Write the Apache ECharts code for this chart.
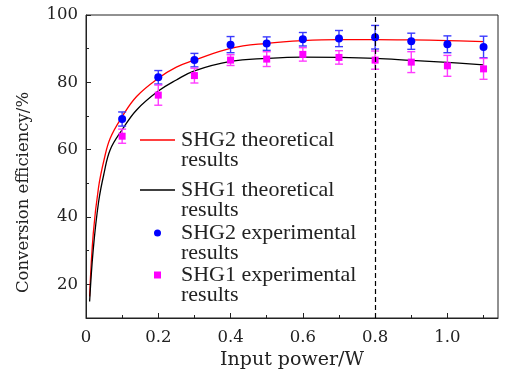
<!DOCTYPE html>
<html>
<head>
<meta charset="utf-8">
<script src="https://cdn.jsdelivr.net/npm/echarts@6/dist/echarts.min.js"></script>
<style>html,body{margin:0;padding:0;background:#fff}#c{width:506px;height:373px}</style>
</head>
<body>
<div id="c"></div>
<script>
// Theoretical curves
var theoryX = [0.01, 0.02, 0.035, 0.05, 0.067, 0.1, 0.14, 0.2, 0.25, 0.3, 0.4, 0.5, 0.6, 0.7, 0.8, 0.9, 1.0, 1.1];
var shg2Theory = [16.4, 35.0, 49.0, 57.0, 63.4, 69.8, 75.8, 81.2, 84.5, 86.6, 90.1, 91.6, 92.4, 92.7, 92.7, 92.6, 92.4, 92.1];
var shg1Theory = [14.9, 30.3, 44.6, 53.0, 60.0, 65.9, 71.8, 77.4, 80.7, 83.4, 86.2, 87.1, 87.5, 87.4, 87.1, 86.5, 85.9, 85.2];
// Experimental points
var expX = [0.1, 0.2, 0.3, 0.4, 0.5, 0.6, 0.7, 0.8, 0.9, 1.0, 1.1];
var shg2Exp = [69.1, 81.5, 86.6, 91.2, 91.5, 92.8, 93.0, 93.4, 92.2, 91.3, 90.5];
var shg2Err = [2.1, 2.0, 2.0, 2.4, 2.0, 2.0, 2.4, 3.5, 2.4, 2.5, 3.2];
var shg1Exp = [64.0, 76.2, 82.0, 86.6, 86.9, 88.3, 87.4, 86.6, 86.0, 84.9, 84.0];
var shg1Err = [2.1, 3.0, 2.2, 1.6, 2.2, 2.0, 2.0, 2.7, 3.1, 3.1, 3.1];
var xTickLabels = [0, 0.2, 0.4, 0.6, 0.8, 1.0];
var xMinorTicks = [0.1, 0.3, 0.5, 0.7, 0.9, 1.1];
var yTickLabels = [20, 40, 60, 80, 100];
var markX = 0.8;

var names = ['SHG2 theoretical\nresults', 'SHG1 theoretical\nresults', 'SHG2 experimental\nresults', 'SHG1 experimental\nresults'];
var AXFONT = 'DejaVu Serif';
var LGFONT = 'Liberation Serif';
var LH = 20;

function pairs(xs, ys) { return xs.map(function (x, i) { return [x, ys[i]]; }); }
function errData(xs, ys, es) { return xs.map(function (x, i) { return [x, ys[i] - es[i], ys[i] + es[i]]; }); }

function errSeries(data, color) {
  return {
    type: 'custom', xAxisIndex: 0, yAxisIndex: 0, silent: true, z: 3,
    data: data,
    renderItem: function (params, api) {
      var x = api.value(0);
      var lo = api.coord([x, api.value(1)]);
      var hi = api.coord([x, api.value(2)]);
      var w = 4;
      var st = { stroke: color, lineWidth: 1.4 };
      return { type: 'group', children: [
        { type: 'line', shape: { x1: lo[0], y1: lo[1], x2: hi[0], y2: hi[1] }, style: st },
        { type: 'line', shape: { x1: lo[0] - w, y1: lo[1], x2: lo[0] + w, y2: lo[1] }, style: st },
        { type: 'line', shape: { x1: hi[0] - w, y1: hi[1], x2: hi[0] + w, y2: hi[1] }, style: st }
      ]};
    }
  };
}

function lgFormatter(n) { return '\n' + n; }
function legendLine(name, iconCenterY) {
  return { show: true, data: [{ name: name, icon: 'rect' }], left: 140, top: iconCenterY - 1.5 * LH,
    orient: 'vertical', itemWidth: 35, itemHeight: 1.3, itemGap: 0, padding: 0, selectedMode: false,
    formatter: lgFormatter,
    textStyle: { fontFamily: LGFONT, fontSize: 22, color: '#222', lineHeight: LH, padding: [0, 0, 0, 1] } };
}
function legendMark(name, icon, iconCenterY) {
  return { show: true, data: [{ name: name, icon: icon }], left: 154, top: iconCenterY - 1.5 * LH,
    orient: 'vertical', itemWidth: 7, itemHeight: 7, itemGap: 0, padding: 0, selectedMode: false,
    formatter: lgFormatter,
    textStyle: { fontFamily: LGFONT, fontSize: 22, color: '#222', lineHeight: LH, padding: [0, 0, 0, 15] } };
}

var chart = echarts.init(document.getElementById('c'), null, { renderer: 'canvas' });
chart.setOption({
  animation: false,
  backgroundColor: '#fff',
  grid: { left: 86, right: 8, top: 15, bottom: 55, show: true, borderColor: '#222', borderWidth: 1, backgroundColor: 'transparent', outerBoundsMode: 'none', containLabel: false },
  legend: [
    legendLine(names[0], 139),
    legendLine(names[1], 189),
    legendMark(names[2], 'circle', 232),
    legendMark(names[3], 'rect', 274)
  ],
  xAxis: [{
    type: 'value', min: 0, max: 1.14, interval: 0.2,
    name: 'Input power/W', nameLocation: 'middle', nameGap: 33,
    nameTextStyle: { fontFamily: AXFONT, fontSize: 19, color: '#222' },
    axisLine: { show: true, lineStyle: { color: '#222', width: 1 } },
    axisTick: { show: true, inside: true, length: 5, customValues: xTickLabels, lineStyle: { color: '#222' } },
    axisLabel: { customValues: xTickLabels, fontFamily: AXFONT, fontSize: 16.5, color: '#222', margin: 11, formatter: function (v) { return v === 0 ? '0' : v.toFixed(1); } },
    splitLine: { show: false }
  }, {
    type: 'value', min: 0, max: 1.14, position: 'bottom',
    axisLine: { show: false }, axisLabel: { show: false }, splitLine: { show: false },
    axisTick: { show: true, inside: true, length: 3, customValues: xMinorTicks, lineStyle: { color: '#222' } }
  }],
  yAxis: [{
    type: 'value', min: 10, max: 100, interval: 10,
    name: 'Conversion efficiency/%', nameLocation: 'middle', nameGap: 54,
    nameTextStyle: { fontFamily: AXFONT, fontSize: 16.5, color: '#222', padding: [0, 52, 0, 0] },
    axisLine: { show: true, lineStyle: { color: '#222', width: 1 } },
    axisTick: { show: true, inside: true, length: 5, customValues: yTickLabels, lineStyle: { color: '#222' } },
    axisLabel: { customValues: yTickLabels, fontFamily: AXFONT, fontSize: 16.5, color: '#222', margin: 8 },
    splitLine: { show: false }
  }, {
    type: 'value', min: 10, max: 100, interval: 10, position: 'left',
    axisLine: { show: false }, axisLabel: { show: false }, splitLine: { show: false },
    axisTick: { show: true, inside: true, length: 3, lineStyle: { color: '#222' } }
  }],
  series: [
    { name: names[0], type: 'line', data: pairs(theoryX, shg2Theory), smooth: 0.4, symbol: 'none', z: 2,
      lineStyle: { color: '#ff0000', width: 1.3 }, itemStyle: { color: '#ff0000' },
      markLine: { silent: true, symbol: 'none', label: { show: false },
        lineStyle: { color: '#000', type: [5, 3], width: 1.2 }, data: [{ xAxis: markX }] } },
    { name: names[1], type: 'line', data: pairs(theoryX, shg1Theory), smooth: 0.4, symbol: 'none', z: 2,
      lineStyle: { color: '#000000', width: 1.3 }, itemStyle: { color: '#000000' } },
    errSeries(errData(expX, shg2Exp, shg2Err), '#3a3aff'),
    errSeries(errData(expX, shg1Exp, shg1Err), '#ff3cff'),
    { name: names[2], type: 'scatter', data: pairs(expX, shg2Exp), symbol: 'circle', symbolSize: 8, z: 4,
      itemStyle: { color: '#0000ff', opacity: 1 } },
    { name: names[3], type: 'scatter', data: pairs(expX, shg1Exp), symbol: 'rect', symbolSize: 7, z: 4,
      itemStyle: { color: '#ff00ff', opacity: 1 } }
  ]
});
</script>
</body>
</html>
